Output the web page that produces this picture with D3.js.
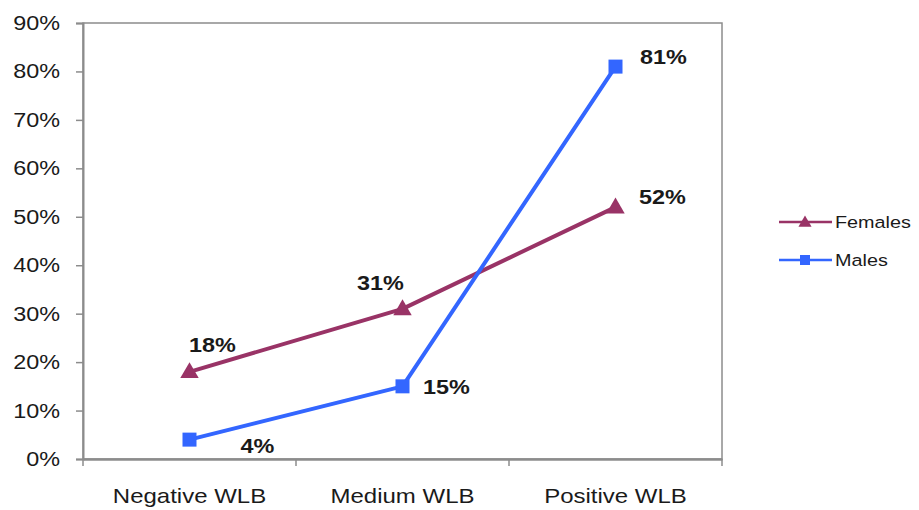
<!DOCTYPE html>
<html>
<head>
<meta charset="utf-8">
<script src="https://cdn.jsdelivr.net/npm/d3@7"></script>
<style>
  html, body { margin: 0; padding: 0; background: #fff; }
  svg { display: block; font-family: "Liberation Sans", Arial, sans-serif; }
</style>
</head>
<body>
<svg id="chart" width="919" height="510"></svg>
<script>
// Work-life balance outcome by gender
const categories = ["Negative WLB", "Medium WLB", "Positive WLB"];
const females = [18, 31, 52];
const males = [4, 15, 81];
const yTicks = [0, 10, 20, 30, 40, 50, 60, 70, 80, 90];
const seriesNames = ["Females", "Males"];

// Label placement relative to each point (dx, dy to text baseline centre)
const femaleLabelOffsets = [[23, -20], [-22, -19], [47, -3]];
const maleLabelOffsets = [[68, 13], [44, 8], [48, -3]];

const colors = { Females: "#993366", Males: "#3366ff" };
const axisColor = "#8c8c8c";
const textColor = "#1a1a1a";
const stretch = 1.2; // horizontal text stretch

const svg = d3.select("#chart");
const plot = { left: 83, right: 722, top: 23, bottom: 459 };

const x = d3.scaleBand().domain(categories).range([plot.left, plot.right]);
const cx = c => x(c) + x.bandwidth() / 2;
const y = d3.scaleLinear().domain([0, 90]).range([plot.bottom, plot.top]);

function label(parent, px, py, str, opts) {
  const g = parent.append("g").attr("transform", `translate(${px},${py})`);
  g.append("text")
    .attr("transform", `scale(${stretch},1)`)
    .attr("text-anchor", opts.anchor || "middle")
    .attr("dy", opts.dy || 0)
    .attr("font-size", opts.size)
    .attr("font-weight", opts.weight || "normal")
    .attr("fill", textColor)
    .text(str);
}

// Plot frame
svg.append("rect")
  .attr("x", plot.left).attr("y", plot.top)
  .attr("width", plot.right - plot.left).attr("height", plot.bottom - plot.top)
  .attr("fill", "none").attr("stroke", axisColor).attr("stroke-width", 1.5);

// Y axis
const yAxis = svg.append("g")
  .attr("transform", `translate(${plot.left},0)`)
  .call(d3.axisLeft(y).tickValues(yTicks).tickSize(7).tickFormat(""));
yAxis.select(".domain").attr("stroke", axisColor).attr("stroke-width", 2);
yAxis.selectAll(".tick line").attr("stroke", axisColor).attr("stroke-width", 1.5);
yTicks.forEach(t => label(svg, 60, y(t), t + "%", { anchor: "end", size: 19.5, dy: "0.36em" }));

// X axis
const xAxis = svg.append("g")
  .attr("transform", `translate(0,${plot.bottom})`)
  .call(d3.axisBottom(x).tickSize(0).tickFormat(""));
xAxis.select(".domain").attr("stroke", axisColor).attr("stroke-width", 2.5);
const xTickPos = categories.map(c => x(c)).concat([plot.right]);
svg.append("g").selectAll("line").data(xTickPos).join("line")
  .attr("x1", d => d).attr("x2", d => d)
  .attr("y1", plot.bottom).attr("y2", plot.bottom + 7)
  .attr("stroke", axisColor).attr("stroke-width", 1.5);
categories.forEach(c => label(svg, cx(c), 503, c, { size: 20 }));

// Series lines
const line = d3.line().x((d, i) => cx(categories[i])).y(d => y(d));
const series = [
  { name: "Females", values: females, offsets: femaleLabelOffsets, marker: "triangle" },
  { name: "Males", values: males, offsets: maleLabelOffsets, marker: "square" }
];

function drawMarker(g, type, px, py, size) {
  if (type === "square") {
    g.append("rect")
      .attr("x", px - size / 2).attr("y", py - size / 2)
      .attr("width", size).attr("height", size)
      .attr("fill", colors.Males);
  } else {
    g.append("path")
      .attr("transform", `translate(${px},${py + 1})`)
      .attr("d", d3.symbol(d3.symbolTriangle, size * size * 0.75)())
      .attr("fill", colors.Females);
  }
}

series.forEach(s => {
  const g = svg.append("g");
  g.append("path").datum(s.values)
    .attr("d", line)
    .attr("fill", "none")
    .attr("stroke", colors[s.name])
    .attr("stroke-width", 4)
    .attr("stroke-linejoin", "round");
  s.values.forEach((v, i) => drawMarker(g, s.marker, cx(categories[i]), y(v), 14));
});

// Value labels
series.forEach(s => {
  s.values.forEach((v, i) => {
    const [dx, dy] = s.offsets[i];
    label(svg, cx(categories[i]) + dx, y(v) + dy, v + "%", { size: 19.5, weight: "bold" });
  });
});

// Legend
const legendRows = [{ name: "Females", marker: "triangle", y: 222 }, { name: "Males", marker: "square", y: 260 }];
legendRows.forEach(r => {
  const g = svg.append("g");
  g.append("line")
    .attr("x1", 779).attr("x2", 832).attr("y1", r.y).attr("y2", r.y)
    .attr("stroke", colors[r.name]).attr("stroke-width", 2.5);
  drawMarker(g, r.marker, 805, r.y, 10);
  label(svg, 835, r.y, r.name, { anchor: "start", size: 16.5, dy: "0.36em" });
});
</script>
</body>
</html>
